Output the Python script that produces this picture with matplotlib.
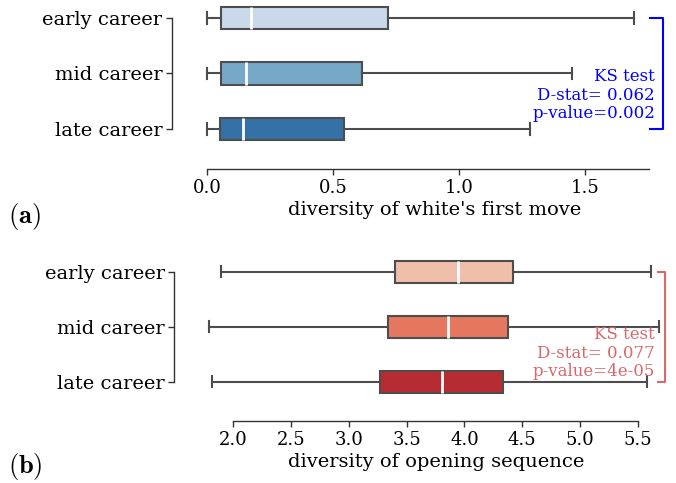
import matplotlib
matplotlib.use("Agg")
import matplotlib.pyplot as plt
import matplotlib.transforms as mtransforms

plt.rcParams['font.family'] = ['DejaVu Serif']
plt.rcParams['mathtext.fontset'] = 'cm'

categories = ["early career", "mid career", "late career"]

# panel (a): diversity of white's first move
a_low = [0.0, 0.0, 0.0]
a_q1 = [0.056, 0.056, 0.05]
a_med = [0.175, 0.154, 0.144]
a_q3 = [0.72, 0.614, 0.545]
a_high = [1.694, 1.447, 1.283]
a_colors = ["#c9d9e9", "#76a8c8", "#3371a6"]
a_ticks = [0.0, 0.5, 1.0, 1.5]
a_ks = "KS test\nD-stat= 0.062\np-value=0.002"

# panel (b): diversity of opening sequence
b_low = [1.896, 1.79, 1.82]
b_q1 = [3.40, 3.337, 3.27]
b_med = [3.947, 3.856, 3.81]
b_q3 = [4.423, 4.38, 4.33]
b_high = [5.61, 5.685, 5.575]
b_colors = ["#f0bfab", "#e6775f", "#b72c33"]
b_ticks = [2.0, 2.5, 3.0, 3.5, 4.0, 4.5, 5.0, 5.5]
b_ks = "KS test\nD-stat= 0.077\np-value=4e-05"

W, H = 676, 483
fig = plt.figure(figsize=(W / 100, H / 100), dpi=100)

edge = "#4d4d4d"


def make_panel(rect, low, q1, med, q3, high, colors, ticks, xlim, spine_end,
               xlabel, left_out, bottom_out, ks_text, ks_color,
               ks_x, ks_y, br_x, br_tick_x):
    ax = fig.add_axes(rect)
    stats = []
    for i in range(len(categories)):
        stats.append(dict(whislo=low[i], q1=q1[i], med=med[i], q3=q3[i],
                          whishi=high[i], fliers=[], label=categories[i]))
    pos = list(range(len(categories)))
    bp = ax.bxp(stats, positions=pos, vert=False, widths=0.4,
                patch_artist=True, showfliers=False, capwidths=0.2,
                boxprops=dict(edgecolor=edge, linewidth=1.5),
                whiskerprops=dict(color=edge, linewidth=1.5),
                capprops=dict(color=edge, linewidth=1.5),
                medianprops=dict(color="white", linewidth=2))
    for patch, c in zip(bp['boxes'], colors):
        patch.set_facecolor(c)
    for ln in bp['whiskers'] + bp['caps'] + bp['boxes'] + bp['medians']:
        ln.set_clip_on(False)
    ax.set_ylim(2.5, -0.3)
    ax.set_xlim(*xlim)
    ax.set_yticks(pos)
    ax.set_yticklabels(categories)
    ax.set_xticks(ticks)
    ax.set_xticklabels([f"{t:.1f}" for t in ticks])
    for s in ['top', 'right']:
        ax.spines[s].set_visible(False)
    ax.spines['left'].set_position(('outward', left_out))
    ax.spines['bottom'].set_position(('outward', bottom_out))
    ax.spines['left'].set_bounds(0, 2)
    ax.spines['bottom'].set_bounds(ticks[0], spine_end)
    for s in ['left', 'bottom']:
        ax.spines[s].set_color("#333333")
        ax.spines[s].set_linewidth(1.0)
    ax.tick_params(axis='both', length=4, width=1.0, color="#333333", pad=3)
    ax.tick_params(axis='x', labelsize=13)
    ax.tick_params(axis='y', labelsize=14)
    ax.set_xlabel(xlabel, fontsize=14, labelpad=3)
    ax.set_facecolor('none')

    trans = mtransforms.blended_transform_factory(ax.transAxes, ax.transData)
    ax.plot([br_tick_x, br_x, br_x, br_tick_x], [0, 0, 2, 2], color=ks_color,
            lw=1.5, transform=trans, clip_on=False)
    ax.text(ks_x, ks_y, ks_text, transform=ax.transAxes, ha='right',
            va='center', multialignment='right', color=ks_color,
            fontsize=12, linespacing=1.1)
    return ax


# panel a: axes from x=207 to 662 px
aw = 662 - 207
ax_a = make_panel(
    rect=[207 / W, 1 - 156.75 / H, aw / W, 155.45 / H],
    low=a_low, q1=a_q1, med=a_med, q3=a_q3, high=a_high, colors=a_colors,
    ticks=a_ticks, xlim=(0.0, aw / 252.0), spine_end=1.755,
    xlabel="diversity of white's first move", left_out=25.2, bottom_out=8.8,
    ks_text=a_ks, ks_color="#0000ff",
    ks_x=(655 - 207) / aw, ks_y=0.397,
    br_x=(662.7 - 207) / aw, br_tick_x=(650 - 207) / aw)

# panel b: axes from x=204.1 to 668.9 px
bl, br = 204.1, 668.9
bw = br - bl
ax_b = make_panel(
    rect=[bl / W, 1 - 409.2 / H, bw / W, 154.0 / H],
    low=b_low, q1=b_q1, med=b_med, q3=b_q3, high=b_high, colors=b_colors,
    ticks=b_ticks, xlim=(2.0 - (233 - bl) / 115.7, 2.0 + (br - 233) / 115.7),
    spine_end=5.5,
    xlabel="diversity of opening sequence", left_out=21.5, bottom_out=8.5,
    ks_text=b_ks, ks_color="#d9686b",
    ks_x=(655 - bl) / bw, ks_y=0.363,
    br_x=(665 - bl) / bw, br_tick_x=(658 - bl) / bw)

fig.text(8 / W, 1 - 217 / H, r"$(\mathbf{a})$", fontsize=19, va='center')
fig.text(8 / W, 1 - 466 / H, r"$(\mathbf{b})$", fontsize=19, va='center')

fig.savefig("out.png", dpi=100)
